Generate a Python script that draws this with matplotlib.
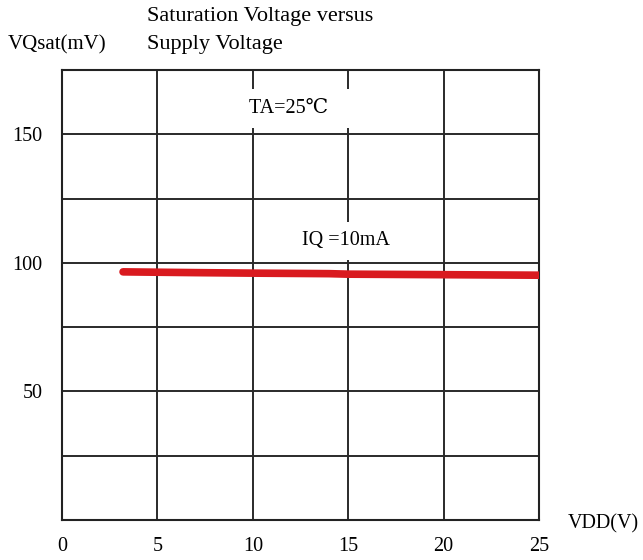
import matplotlib
matplotlib.use("Agg")
import matplotlib.pyplot as plt
from matplotlib.ticker import FixedLocator, NullFormatter

# Data
vdd = [3.2, 7.0, 10.0, 14.0, 15.0, 20.0, 25.0]
vqsat = [96.5, 96.2, 96.0, 95.8, 95.6, 95.4, 95.2]
x_ticks = [0, 5, 10, 15, 20, 25]
y_ticks = [50, 100, 150]
y_minor = [25, 75, 125]

FONT = ['Liberation Serif', 'DejaVu Serif', 'Noto Sans CJK SC']
plt.rcParams['font.family'] = FONT
FS = 14.5

fig = plt.figure(figsize=(6.43, 5.6), dpi=100)
ax = fig.add_axes([62/643, 40/560, (539-62)/643, 450/560])

ax.set_xlim(0, 25)
ax.set_ylim(0, 175)
ax.set_xticks(x_ticks)
ax.set_yticks(y_ticks)
ax.yaxis.set_minor_locator(FixedLocator(y_minor))
ax.yaxis.set_minor_formatter(NullFormatter())
ax.tick_params(axis='both', which='both', length=0, labelsize=FS)
ax.tick_params(axis='x', pad=12)
ax.tick_params(axis='y', pad=14)

ax.grid(True, which='both', color='#2a2a2a', linewidth=1.4)
ax.set_axisbelow(True)
for s in ax.spines.values():
    s.set_color('#222222')
    s.set_linewidth(1.5)

ax.plot(vdd, vqsat, color='#d91a1f', linewidth=5.5, solid_capstyle='round', zorder=3)

ax.text(9.8, 160, 'TA=25℃   ', fontsize=FS, ha='left', va='center',
        bbox=dict(facecolor='white', edgecolor='none', pad=7), zorder=4)
ax.text(14.9, 108.5, 'IQ =10mA', fontsize=FS, ha='center', va='center',
        bbox=dict(facecolor='white', edgecolor='none', pad=7), zorder=4)

fig.text(147/643, 1 - 16/560, 'Saturation Voltage versus', fontsize=FS + 1.5, ha='left', va='center')
fig.text(147/643, 1 - 45/560, 'Supply Voltage', fontsize=FS + 1.5, ha='left', va='center')
fig.text(8/643, 1 - 45/560, 'VQsat(mV)', fontsize=FS + 0.5, ha='left', va='center')
fig.text(568/643, 1 - 524/560, 'VDD(V)', fontsize=FS, ha='left', va='center')

fig.savefig('out.png', dpi=100, facecolor='white')
